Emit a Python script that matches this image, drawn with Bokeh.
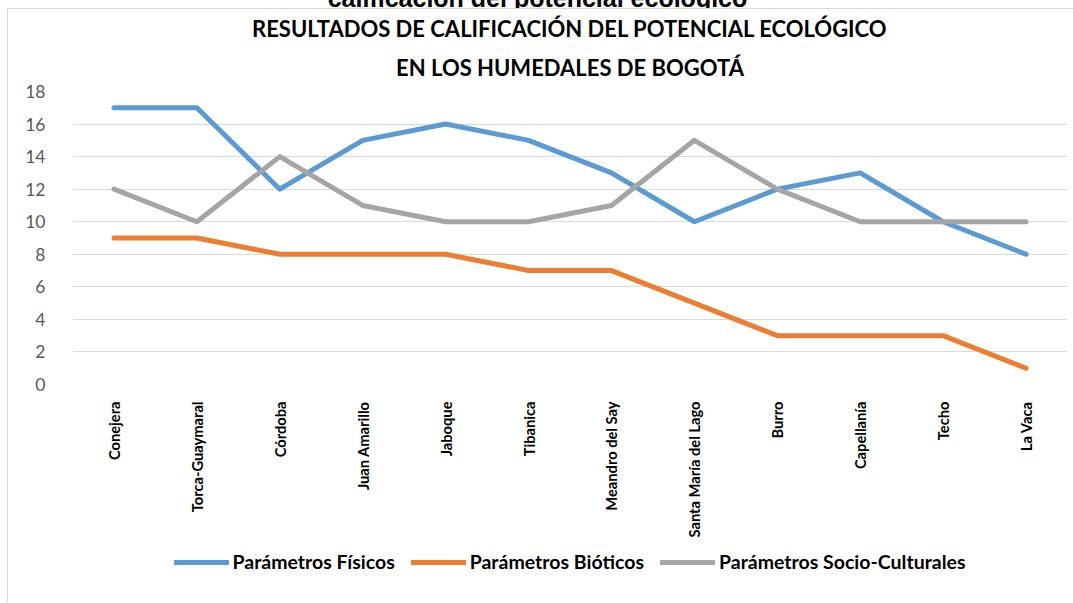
from bokeh.plotting import figure
from bokeh.models import FactorRange, Range1d, FixedTicker, Legend, LegendItem, Title, Div
from bokeh.layouts import column
from bokeh.embed import file_html
from bokeh.resources import INLINE

categories = ["Conejera", "Torca-Guaymaral", "Córdoba", "Juan Amarillo", "Jaboque", "Tibanica",
              "Meandro del Say", "Santa María del Lago", "Burro", "Capellanía", "Techo", "La Vaca"]
fisicos = [17, 17, 12, 15, 16, 15, 13, 10, 12, 13, 10, 8]
bioticos = [9, 9, 8, 8, 8, 7, 7, 5, 3, 3, 3, 1]
socio = [12, 10, 14, 11, 10, 10, 11, 15, 12, 10, 10, 10]
y_ticks = [0, 2, 4, 6, 8, 10, 12, 14, 16, 18]
series_names = ["Parámetros Físicos", "Parámetros Bióticos", "Parámetros Socio-Culturales"]
colors = ["#5B9BD5", "#ED7D31", "#A5A5A5"]
title_lines = ["RESULTADOS DE CALIFICACIÓN DEL POTENCIAL ECOLÓGICO", "EN LOS HUMEDALES DE BOGOTÁ"]
cut_text = "calificación del potencial ecológico"

FONT = "Lato"
BORDER = "1px solid #D9D9D9"
series = [fisicos, bioticos, socio]

# clipped caption above the chart (only its lower part is visible)
div = Div(text=('<div style="position:absolute; left:-7px; top:-14px; width:1075px; text-align:center; '
                'white-space:nowrap; font-family:\'Liberation Sans\'; font-weight:bold; font-size:25px; '
                'line-height:25px; color:#000;">' + cut_text + '</div>'),
          width=1066, height=9, margin=(0, 0, 0, 7),
          styles={"overflow": "hidden", "position": "relative", "border-bottom": BORDER})

# main chart
p = figure(width=1065, height=534, x_range=FactorRange(*categories), y_range=Range1d(0, 18),
           output_backend="svg", toolbar_location=None, title=None,
           min_border_left=64, min_border_right=6, min_border_top=82, min_border_bottom=159)
p.margin = (0, 0, 0, 7)
p.styles = {"border-left": BORDER}
p.outline_line_color = None
p.background_fill_color = "white"
p.border_fill_color = "white"

p.xgrid.grid_line_color = None
p.ygrid.grid_line_color = "#D9D9D9"
p.ygrid.grid_line_width = 1
p.yaxis.ticker = FixedTicker(ticks=y_ticks)
p.yaxis.axis_line_color = None
p.yaxis.major_tick_line_color = None
p.yaxis.minor_tick_line_color = None
p.yaxis.major_label_text_font = FONT
p.yaxis.major_label_text_font_size = "17.5px"
p.yaxis.major_label_text_color = "#595959"
p.yaxis.major_label_standoff = 21

p.xaxis.axis_line_color = None
p.xaxis.major_tick_line_color = None
p.xaxis.major_label_orientation = 1.5707963
p.xaxis.major_label_text_font = FONT
p.xaxis.major_label_text_font_style = "bold"
p.xaxis.major_label_text_font_size = "14.7px"
p.xaxis.major_label_text_color = "black"
p.xaxis.major_label_standoff = 11

for vals, c in zip(series, colors):
    p.line(categories, vals, line_color=c, line_width=5, line_cap="round", line_join="round")

# titles (added closest-to-frame first)
p.add_layout(Title(text=title_lines[1], align="center", standoff=21, text_line_height=1.5, text_font=FONT,
                   text_font_style="bold", text_font_size="22px", text_color="black"), "above")
p.add_layout(Title(text=title_lines[0], align="center", standoff=0, text_font=FONT,
                   text_font_style="bold", text_font_size="22px", text_color="black"), "above")

# legend strip (its own small plot, so that the legend is not clipped by the chart frame);
# the series are drawn there too, but outside its visible y range
p2 = figure(width=1065, height=59, x_range=FactorRange(*categories), y_range=Range1d(-100, -99),
            output_backend="svg", toolbar_location=None, title=None,
            x_axis_location=None, y_axis_location=None,
            min_border_left=35, min_border_right=0, min_border_top=0, min_border_bottom=0)
p2.margin = (0, 0, 0, 7)
p2.styles = {"border-left": BORDER}
p2.outline_line_color = None
p2.grid.visible = False
legend_renderers = [p2.line(categories, vals, line_color=c, line_width=5, line_cap="round")
                    for vals, c in zip(series, colors)]
legend = Legend(items=[LegendItem(label=n, renderers=[r]) for n, r in zip(series_names, legend_renderers)],
                orientation="horizontal", location="top_center", padding=0, spacing=16, margin=7,
                glyph_width=55, glyph_height=22, label_standoff=4,
                label_text_font=FONT, label_text_font_style="bold", label_text_font_size="19.5px",
                label_text_color="black", background_fill_alpha=0, border_line_color=None)
p2.add_layout(legend, "center")

layout = column(div, p, p2, spacing=0)
open("out.html", "w").write(file_html(layout, INLINE))
